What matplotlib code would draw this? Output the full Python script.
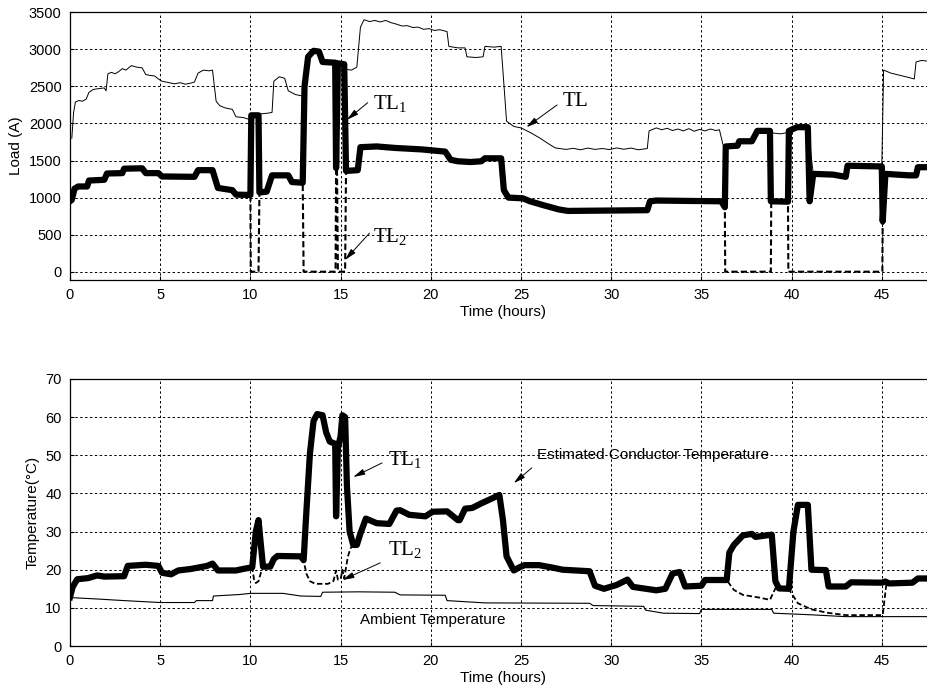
import numpy as np
import matplotlib
matplotlib.use("Agg")
import matplotlib.pyplot as plt

# ---- data: (time in hours, value) ----
# total line load TL (thin)
tl_pts = [(0.1, 1800), (0.2, 2150), (0.3, 2290), (0.5, 2310), (0.7, 2300), (0.9, 2330), (1.05, 2420),
          (1.3, 2460), (1.6, 2470), (1.9, 2480), (2.0, 2440), (2.1, 2670), (2.3, 2690), (2.5, 2670),
          (2.7, 2700), (2.9, 2740), (3.1, 2720), (3.4, 2780), (3.7, 2760), (4.0, 2750), (4.2, 2660),
          (4.4, 2650), (4.7, 2640), (4.9, 2600), (5.1, 2570), (5.5, 2550), (5.8, 2535), (6.1, 2550),
          (6.4, 2530), (6.7, 2545), (6.9, 2560), (7.1, 2680), (7.4, 2720), (7.7, 2710), (7.9, 2720),
          (8.1, 2300), (8.3, 2240), (8.6, 2210), (9.0, 2190), (9.2, 2090), (9.6, 2080), (10.0, 2050),
          (10.05, 2110), (10.45, 2110), (10.6, 2130), (11.0, 2140), (11.2, 2150), (11.3, 2570),
          (11.6, 2630), (11.9, 2610), (12.1, 2440), (12.5, 2390), (12.9, 2370), (13.0, 2500),
          (13.2, 2900), (13.5, 2980), (13.8, 2970), (14.0, 2830), (14.7, 2820), (14.85, 2810),
          (15.2, 2800), (15.3, 2730), (15.6, 2720), (15.9, 2760), (16.1, 3300), (16.3, 3400),
          (16.6, 3375), (16.9, 3390), (17.2, 3370), (17.5, 3390), (17.8, 3360), (18.1, 3340),
          (18.4, 3315), (18.7, 3320), (19.0, 3295), (19.3, 3300), (19.6, 3270), (19.9, 3280),
          (20.2, 3255), (20.5, 3265), (20.9, 3240), (21.0, 3040), (21.5, 3020), (21.9, 3020),
          (22.0, 2900), (22.5, 2890), (22.9, 2900), (23.0, 3040), (23.5, 3030), (23.9, 3040),
          (24.2, 2030), (24.6, 1960), (25.0, 1940), (25.5, 1880), (26.0, 1810), (26.5, 1730),
          (26.9, 1670), (27.5, 1650), (27.9, 1665), (28.3, 1645), (28.7, 1668), (29.1, 1650),
          (29.5, 1662), (29.9, 1648), (30.3, 1670), (30.7, 1652), (31.1, 1668), (31.5, 1645),
          (32.0, 1662), (32.1, 1900), (32.5, 1940), (32.8, 1915), (33.1, 1935), (33.4, 1905),
          (33.7, 1925), (34.0, 1900), (34.3, 1930), (34.6, 1895), (34.9, 1920), (35.2, 1900),
          (35.5, 1925), (35.8, 1905), (36.0, 1915), (36.2, 1710), (36.35, 1690), (37.0, 1700),
          (37.1, 1760), (37.8, 1760), (38.1, 1900), (38.85, 1900), (39.0, 1870), (39.4, 1860),
          (39.8, 1880), (40.3, 1950), (40.9, 1950), (41.2, 1320), (42.3, 1310), (43.0, 1280),
          (43.1, 1430), (45.0, 1420), (45.1, 2720), (45.5, 2680), (46.0, 2650), (46.5, 2620),
          (46.8, 2600), (46.9, 2830), (47.2, 2850), (47.6, 2840)]

# TL1 load (thick)
tl1_pts = [(0.0, 950), (0.1, 970), (0.25, 1120), (0.45, 1150), (0.95, 1150), (1.05, 1230), (1.9, 1240),
           (2.05, 1325), (2.9, 1330), (3.0, 1390), (4.0, 1395), (4.2, 1330), (4.9, 1330), (5.1, 1285),
           (6.9, 1280), (7.1, 1370), (7.9, 1370), (8.2, 1130), (9.0, 1100), (9.2, 1040), (10.0, 1035),
           (10.05, 2110), (10.45, 2110), (10.5, 1070), (10.9, 1080), (11.2, 1300), (12.1, 1300),
           (12.3, 1210), (12.9, 1200), (13.0, 2500), (13.2, 2900), (13.5, 2980), (13.8, 2970),
           (14.0, 2830), (14.7, 2820), (14.75, 1400), (14.85, 2810), (15.2, 2800), (15.3, 1360),
           (15.95, 1370), (16.1, 1680), (17.0, 1690), (18.0, 1670), (19.5, 1650), (20.8, 1620),
           (21.1, 1510), (21.5, 1490), (22.2, 1480), (22.8, 1490), (23.0, 1530), (23.9, 1530),
           (24.05, 1100), (24.3, 1000), (25.1, 990), (25.5, 950), (26.2, 900), (27.1, 840), (27.6, 820),
           (32.0, 830), (32.15, 950), (32.5, 960), (36.1, 950), (36.3, 870), (36.35, 1690), (37.0, 1700),
           (37.1, 1760), (37.8, 1760), (38.1, 1900), (38.8, 1900), (38.85, 950), (39.8, 945),
           (39.85, 1900), (40.3, 1950), (40.9, 1950), (41.0, 950), (41.2, 1320), (42.3, 1310),
           (43.0, 1280), (43.1, 1430), (45.0, 1420), (45.05, 680), (45.2, 1320), (46.5, 1300),
           (46.9, 1300), (47.0, 1410), (47.6, 1410)]

# TL2 load (dashed), zero while out of service
tl2_pts = [(0.0, 950), (0.1, 970), (0.25, 1120), (0.45, 1150), (0.95, 1150), (1.05, 1230), (1.9, 1240),
           (2.05, 1325), (2.9, 1330), (3.0, 1390), (4.0, 1395), (4.2, 1330), (4.9, 1330), (5.1, 1285),
           (6.9, 1280), (7.1, 1370), (7.9, 1370), (8.2, 1130), (9.0, 1100), (9.2, 1040), (10.0, 1035),
           (10.02, 0), (10.45, 0), (10.5, 1070), (10.9, 1080), (11.2, 1300), (12.1, 1300), (12.3, 1210),
           (12.9, 1200), (12.95, 0), (14.72, 0), (14.75, 1400), (14.8, 1400), (14.85, 0), (15.25, 0),
           (15.3, 1360), (15.95, 1370), (16.1, 1680), (17.0, 1690), (18.0, 1670), (19.5, 1650),
           (20.8, 1620), (21.1, 1510), (21.5, 1490), (22.2, 1480), (22.8, 1490), (23.0, 1530),
           (23.9, 1530), (24.05, 1100), (24.3, 1000), (25.1, 990), (25.5, 950), (26.2, 900),
           (27.1, 840), (27.6, 820), (32.0, 830), (32.15, 950), (32.5, 960), (36.1, 950), (36.3, 870),
           (36.32, 0), (38.85, 0), (38.87, 950), (39.8, 945), (39.82, 0), (45.03, 0), (45.05, 680),
           (45.2, 1320), (46.5, 1300), (46.9, 1300), (47.0, 1410), (47.6, 1410)]

# estimated conductor temperature TL1 (thick)
ct1_pts = [(0.0, 12.8), (0.15, 15.5), (0.4, 17.5), (1.0, 17.8), (1.5, 18.5), (1.9, 18.2), (3.0, 18.3),
           (3.2, 21.0), (4.2, 21.3), (4.9, 21.0), (5.1, 19.2), (5.6, 18.8), (6.0, 19.8), (6.7, 20.2),
           (7.6, 21.0), (7.9, 21.6), (8.2, 19.8), (9.2, 19.8), (9.7, 20.3), (10.1, 20.6), (10.3, 30.0),
           (10.45, 33.0), (10.55, 28.0), (10.7, 20.8), (11.1, 20.8), (11.3, 22.8), (11.5, 23.6),
           (12.8, 23.5), (12.95, 22.5), (13.1, 35.0), (13.3, 50.5), (13.5, 59.0), (13.7, 60.8),
           (14.0, 60.5), (14.2, 56.0), (14.4, 53.6), (14.7, 53.0), (14.75, 34.0), (14.85, 52.0),
           (15.0, 55.0), (15.1, 60.5), (15.25, 60.0), (15.35, 42.0), (15.5, 30.0), (15.7, 26.5),
           (15.9, 26.5), (16.1, 29.5), (16.4, 33.4), (17.0, 32.2), (17.7, 32.0), (18.1, 35.5),
           (18.3, 35.6), (18.8, 34.4), (19.7, 34.0), (20.1, 35.2), (20.9, 35.3), (21.5, 33.0),
           (21.6, 33.0), (21.9, 36.0), (22.3, 36.2), (22.8, 37.4), (23.4, 38.7), (23.8, 39.6),
           (24.0, 33.0), (24.2, 23.5), (24.6, 19.8), (24.9, 20.6), (25.2, 21.2), (26.0, 21.2),
           (26.8, 20.5), (27.3, 20.0), (28.8, 19.6), (29.1, 15.8), (29.6, 15.0), (30.3, 16.0),
           (30.9, 17.4), (31.2, 15.5), (32.5, 14.6), (33.0, 15.0), (33.4, 19.0), (33.8, 19.4),
           (34.1, 15.6), (35.0, 15.8), (35.2, 17.3), (36.4, 17.3), (36.55, 24.5), (36.8, 26.5),
           (37.3, 29.0), (37.8, 29.4), (38.0, 28.6), (38.9, 29.2), (39.1, 17.0), (39.3, 15.1),
           (39.85, 15.0), (40.1, 30.0), (40.35, 37.0), (40.9, 37.0), (41.1, 20.0), (41.9, 19.9),
           (42.05, 15.6), (43.0, 15.6), (43.3, 16.7), (45.0, 16.6), (45.2, 16.9), (45.4, 16.4),
           (46.7, 16.6), (47.0, 17.7), (47.6, 17.7)]

# estimated conductor temperature TL2 (dashed)
ct2_pts = [(0.0, 12.8), (0.15, 15.5), (0.4, 17.5), (1.0, 17.8), (1.5, 18.5), (1.9, 18.2), (3.0, 18.3),
           (3.2, 21.0), (4.2, 21.3), (4.9, 21.0), (5.1, 19.2), (5.6, 18.8), (6.0, 19.8), (6.7, 20.2),
           (7.6, 21.0), (7.9, 21.6), (8.2, 19.8), (9.2, 19.8), (9.7, 20.3), (10.1, 20.6), (10.2, 17.5),
           (10.3, 16.5), (10.45, 17.0), (10.6, 19.5), (10.7, 20.8), (11.1, 20.8), (11.3, 22.8),
           (11.5, 23.6), (12.8, 23.5), (12.95, 22.5), (13.1, 19.0), (13.3, 17.0), (13.6, 16.3),
           (14.3, 16.3), (14.6, 17.0), (14.75, 19.8), (14.85, 17.4), (15.0, 17.5), (15.1, 20.0),
           (15.2, 17.7), (15.4, 23.4), (15.55, 25.6), (15.7, 26.5), (15.9, 26.5), (16.1, 29.5),
           (16.4, 33.4), (17.0, 32.2), (17.7, 32.0), (18.1, 35.5), (18.3, 35.6), (18.8, 34.4),
           (19.7, 34.0), (20.1, 35.2), (20.9, 35.3), (21.5, 33.0), (21.6, 33.0), (21.9, 36.0),
           (22.3, 36.2), (22.8, 37.4), (23.4, 38.7), (23.8, 39.6), (24.0, 33.0), (24.2, 23.5),
           (24.6, 19.8), (24.9, 20.6), (25.2, 21.2), (26.0, 21.2), (26.8, 20.5), (27.3, 20.0),
           (28.8, 19.6), (29.1, 15.8), (29.6, 15.0), (30.3, 16.0), (30.9, 17.4), (31.2, 15.5),
           (32.5, 14.6), (33.0, 15.0), (33.4, 19.0), (33.8, 19.4), (34.1, 15.6), (35.0, 15.8),
           (35.2, 17.3), (36.4, 17.3), (36.8, 14.7), (37.3, 13.4), (38.2, 12.7), (38.8, 12.1),
           (39.1, 15.1), (39.3, 15.0), (39.85, 14.9), (40.35, 11.2), (41.1, 9.6), (42.0, 8.7),
           (43.0, 8.1), (45.05, 8.1), (45.25, 16.1), (45.4, 16.4), (46.7, 16.6), (47.0, 17.7),
           (47.6, 17.7)]

# ambient temperature (thin)
amb_pts = [(0.0, 12.7), (1.6, 12.3), (3.0, 11.9), (5.0, 11.4), (6.9, 11.4), (7.0, 11.9), (7.9, 11.9),
           (7.95, 13.1), (9.4, 13.5), (10.0, 13.8), (11.8, 13.8), (12.8, 13.1), (13.9, 13.0),
           (14.0, 14.1), (16.0, 14.2), (18.0, 14.1), (18.3, 13.4), (20.8, 13.3), (20.9, 11.9),
           (23.0, 11.3), (28.8, 11.2), (29.0, 10.6), (31.8, 10.4), (31.9, 9.4), (32.9, 8.6),
           (34.9, 8.5), (35.0, 9.6), (38.9, 9.6), (39.0, 8.6), (41.0, 8.2), (43.0, 7.7), (47.6, 7.7)]

x_ticks = [0, 5, 10, 15, 20, 25, 30, 35, 40, 45]
load_ticks = [0, 500, 1000, 1500, 2000, 2500, 3000, 3500]
temp_ticks = [0, 10, 20, 30, 40, 50, 60, 70]

tl_t, tl_v = zip(*tl_pts)
tl1_t, tl1_v = zip(*tl1_pts)
tl2_t, tl2_v = zip(*tl2_pts)
ct1_t, ct1_v = zip(*ct1_pts)
ct2_t, ct2_v = zip(*ct2_pts)
amb_t, amb_v = zip(*amb_pts)

# ---- style ----
plt.rcParams['font.family'] = ['Liberation Sans', 'DejaVu Sans']
plt.rcParams['mathtext.fontset'] = 'custom'
plt.rcParams['mathtext.rm'] = 'Liberation Serif'
plt.rcParams['mathtext.it'] = 'Liberation Serif:italic'

W, H = 928, 691
fig = plt.figure(figsize=(W / 100, H / 100), dpi=100)
px_hour = 18.04  # pixels per hour on the x axis
ax_w = 48 * px_hour / W
ax1 = fig.add_axes([70 / W, 1 - 280 / H, ax_w, (280 - 12.3) / H])
ax2 = fig.add_axes([70 / W, 1 - 646 / H, ax_w, (646 - 379) / H])

grid_kw = dict(color='k', linestyle=(0, (2.5, 2.5)), linewidth=0.7)
for ax in (ax1, ax2):
    ax.set_xlim(0, 48)
    ax.set_xticks(x_ticks)
    ax.grid(True, **grid_kw)
    ax.set_axisbelow(True)
    ax.tick_params(direction='in', length=3, labelsize=10.5, pad=6, colors='k')
    ax.set_xlabel('Time (hours)', fontsize=11, labelpad=2)
    for s in ax.spines.values():
        s.set_linewidth(0.9)

arrow_kw = dict(arrowstyle='-|>,head_length=0.7,head_width=0.18', color='k', lw=0.7,
                shrinkA=0, shrinkB=0)


def label_arrow(ax, text, head, tail, pos, size):
    # arrow and its label are placed separately, as in the original
    ax.annotate('', xy=head, xytext=tail, arrowprops=arrow_kw)
    ax.text(pos[0], pos[1], text, fontsize=size, va='center')


# ---- load plot ----
ax1.plot(tl_t, tl_v, color='k', lw=0.7)
ax1.plot(tl2_t, tl2_v, color='k', lw=1.5, linestyle=(0, (3, 1.5)))
ax1.plot(tl1_t, tl1_v, color='k', lw=4.5, solid_joinstyle='round')
ax1.set_ylim(-112, 3500)
ax1.set_yticks(load_ticks)
ax1.set_ylabel('Load (A)', fontsize=11, labelpad=4)

label_arrow(ax1, r'$\mathrm{TL_1}$', (15.35, 2050), (16.5, 2280), (16.8, 2270), 15)
label_arrow(ax1, r'$\mathrm{TL}$', (25.3, 1950), (27.0, 2250), (27.3, 2310), 15)
label_arrow(ax1, r'$\mathrm{TL_2}$', (15.25, 160), (16.6, 520), (16.8, 470), 15)

# ---- temperature plot ----
ax2.plot(amb_t, amb_v, color='k', lw=0.8)
ax2.plot(ct2_t, ct2_v, color='k', lw=1.3, linestyle=(0, (3, 1.5)))
ax2.plot(ct1_t, ct1_v, color='k', lw=4.5, solid_joinstyle='round')
ax2.set_ylim(0, 70)
ax2.set_yticks(temp_ticks)
ax2.set_ylabel('Temperature(°C)', fontsize=11, labelpad=4)

label_arrow(ax2, r'$\mathrm{TL_1}$', (15.7, 44.3), (17.3, 48.0), (17.6, 48.8), 15)
label_arrow(ax2, r'$\mathrm{TL_2}$', (15.1, 17.3), (17.2, 21.8), (17.6, 25.2), 15)
label_arrow(ax2, 'Estimated Conductor Temperature', (24.6, 42.7), (25.6, 46.7), (25.9, 50.1), 11)
ax2.text(16.1, 6.8, 'Ambient Temperature', fontsize=11, va='center')

fig.savefig('out.png', dpi=100)
